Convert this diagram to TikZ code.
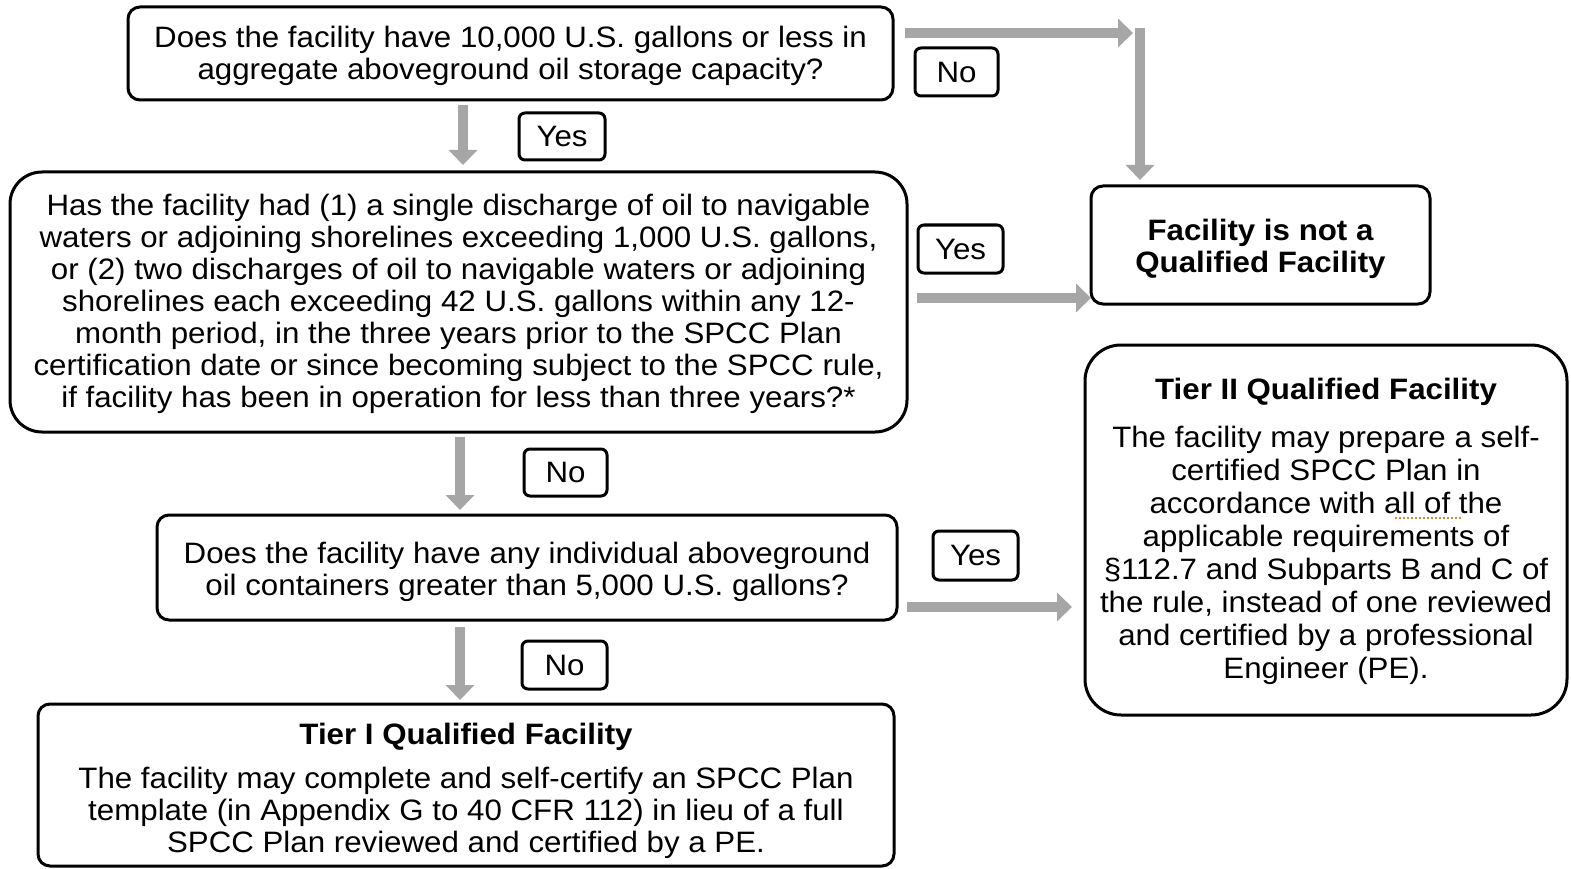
\documentclass[tikz,border=0pt]{standalone}
\usepackage{fontspec}
\setmainfont{Liberation Sans}[FakeStretch=1.06]
\usetikzlibrary{arrows.meta}
\definecolor{arrowgray}{HTML}{A6A6A6}
\definecolor{spellmark}{HTML}{C09040}
\newcommand\fs{\fontsize{29.5}{32}\selectfont}
\newcommand\topstrut[1]{\rule{0pt}{#1pt}}
\tikzset{
  box/.style={draw, line width=3pt, rounded corners=12pt, align=center, inner sep=0pt, outer sep=0pt, font=\fs},
  bigbox/.style={box, rounded corners=32pt},
  lbl/.style={draw, line width=3pt, rounded corners=6pt, inner sep=0pt, outer sep=0pt, font=\fs},
  flow/.style={draw=arrowgray, line width=10pt, -{Triangle[width=28pt,length=15pt]}},
}
\begin{document}
\begin{tikzpicture}[x=1pt,y=-1pt]
\useasboundingbox (0,0) rectangle (1571,869);
% boxes
\node[box, minimum width=765pt, minimum height=93pt] (q1) at (510.5,53.5)
  {\topstrut{25.5}Does the facility have 10,000 U.S. gallons or less in\\aggregate aboveground oil storage capacity?};
\node[bigbox, minimum width=897pt, minimum height=260pt] (q2) at (458.5,302)
  {\topstrut{25.5}Has the facility had (1) a single discharge of oil to navigable\\waters or adjoining shorelines exceeding 1,000 U.S. gallons,\\or (2) two discharges of oil to navigable waters or adjoining\\shorelines each exceeding 42 U.S. gallons within any 12-\\month period, in the three years prior to the SPCC Plan\\certification date or since becoming subject to the SPCC rule,\\if facility has been in operation for less than three years?*};
\node[box, minimum width=339pt, minimum height=118pt, font=\fs\bfseries] (notq) at (1260.5,245)
  {\topstrut{29.5}Facility is not a\\Qualified Facility};
\node[bigbox, minimum width=482pt, minimum height=370pt, rounded corners=36pt, font=\fontsize{29.5}{33}\selectfont] (tier2) at (1326,530)
  {\topstrut{23.5}\textbf{Tier II Qualified Facility}\\[15pt]The facility may prepare a self-\\certified SPCC Plan in\\accordance with all of the\\applicable requirements of\\§112.7 and Subparts B and C of\\the rule, instead of one reviewed\\and certified by a professional\\Engineer (PE).};
\node[box, minimum width=740pt, minimum height=105pt] (q3) at (527,567.5)
  {\topstrut{29.5}Does the facility have any individual aboveground\\oil containers greater than 5,000 U.S. gallons?};
\node[box, minimum width=856pt, minimum height=162pt] (tier1) at (466,785)
  {\topstrut{33.5}\textbf{Tier I Qualified Facility}\\[12pt]The facility may complete and self-certify an SPCC Plan\\template (in Appendix G to 40 CFR 112) in lieu of a full\\SPCC Plan reviewed and certified by a PE.};
% spell-check mark under "all of"
\draw[spellmark, line width=1.8pt, dash pattern=on 1.8pt off 2.2pt] (1395,518) -- (1461,518);
% labels
\node[lbl, minimum width=83pt, minimum height=48pt] (no1) at (956.5,72) {No};
\node[lbl, minimum width=86pt, minimum height=47pt] (yes1) at (562,136.5) {Yes};
\node[lbl, minimum width=85pt, minimum height=48pt] (yes2) at (960.5,249) {Yes};
\node[lbl, minimum width=83pt, minimum height=47pt] (no3) at (565.5,472.5) {No};
\node[lbl, minimum width=85pt, minimum height=49pt] (yes4) at (975.5,555.5) {Yes};
\node[lbl, minimum width=85pt, minimum height=48pt] (no5) at (564.5,665) {No};
% connectors
\coordinate (c1) at (1140,28);
\draw[flow, shorten >=7pt] ([xshift=12pt,yshift=-26pt]q1.north east) coordinate (s1) -- (s1 -| c1);
\draw[flow, shorten >=6pt] (c1) -- (c1 |- notq.north);
\draw[flow, shorten <=5pt, shorten >=7pt] ([xshift=-47.5pt]q1.south) coordinate (s2) -- (s2 |- q2.north);
\draw[flow, shorten <=5pt] ([xshift=5pt,yshift=4pt]q2.east) coordinate (s3) -- (s3 -| notq.west);
\draw[flow, shorten <=5pt, shorten >=5pt] ([xshift=1.5pt]q2.south) coordinate (s4) -- (s4 |- q3.north);
\draw[flow, shorten <=10pt, shorten >=13pt] ([yshift=-39.5pt]q3.east) coordinate (s5) -- (s5 -| tier2.west);
\draw[flow, shorten <=7pt, shorten >=4pt] ([xshift=-67pt]q3.south) coordinate (s6) -- (s6 |- tier1.north);
\end{tikzpicture}
\end{document}
